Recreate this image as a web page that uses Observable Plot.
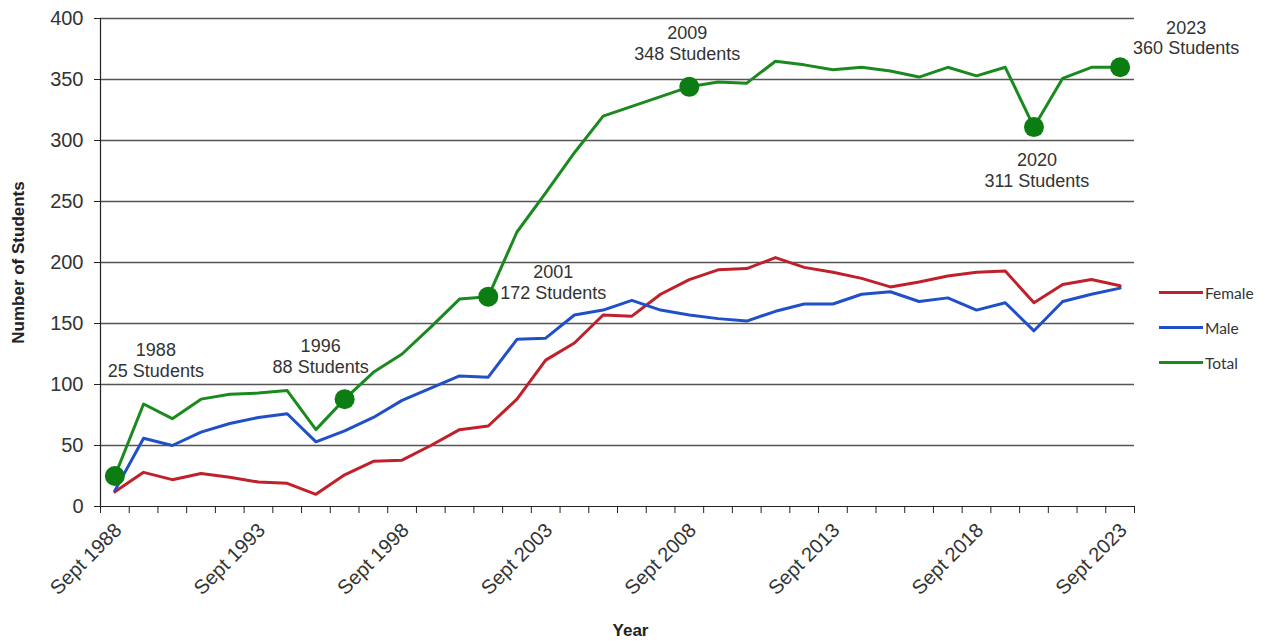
<!DOCTYPE html>
<html>
<head>
<meta charset="utf-8">
<script src="https://cdn.jsdelivr.net/npm/d3@7"></script>
<script src="https://cdn.jsdelivr.net/npm/@observablehq/plot@0.6"></script>
<style>
  html, body { margin: 0; padding: 0; background: #fff; }
  #wrap { position: relative; width: 1269px; height: 642px; font-family: "Liberation Sans", Arial, sans-serif; }
  #legend { position: absolute; left: 1159px; top: 275px; font-family: Lato, "Open Sans", sans-serif; font-size: 15.5px; color: #333; }
  #legend .item { display: flex; align-items: center; height: 35px; }
  #legend .sw { width: 44px; height: 3px; margin-right: 2px; }
</style>
</head>
<body>
<div id="wrap"></div>
<script>
// ---- data ----
const years = d3.range(1988, 2024);
const female = [12,28,22,27,24,20,19,10,26,37,38,50,63,66,88,120,134,157,156,174,186,194,195,204,196,192,187,180,184,189,192,193,167,182,186,181];
const male   = [13,56,50,61,68,73,76,53,62,73,87,97,107,106,137,138,157,161,169,161,157,154,152,160,166,166,174,176,168,171,161,167,144,168,174,179];
const total  = [25,84,72,88,92,93,95,63,88,110,125,147,170,172,225,257,290,320,328,336,344,348,347,365,362,358,360,357,352,360,353,360,311,351,360,360];
const seriesNames = ["Female", "Male", "Total"];
const seriesColors = ["#c0202a", "#2050c8", "#1a8a1e"];
const yTicks = [0,50,100,150,200,250,300,350,400];
const xLabelYears = [1988,1993,1998,2003,2008,2013,2018,2023];
const highlightYears = [1988,1996,2001,2008,2020,2023];
const highlightLabels = ["1988\n25 Students","1996\n88 Students","2001\n172 Students","2009\n348 Students","2020\n311 Students","2023\n360 Students"];
// label offsets (layout only)
const labelOffsets = [[41,-116],[-24,-43],[65,-15],[-2,-44],[3,43],[66,-30]];

// ---- build ----
const rows = [];
years.forEach((yr, i) => {
  rows.push({year: yr, value: female[i], series: "Female"});
  rows.push({year: yr, value: male[i], series: "Male"});
  rows.push({year: yr, value: total[i], series: "Total"});
});
const highlights = highlightYears.map((yr, i) => ({year: yr, value: total[years.indexOf(yr)], label: highlightLabels[i]}));
const boundaries = d3.range(years.length + 1).map(i => years[0] - 0.5 + i);

const annotationMarks = highlights.map((h, i) => Plot.text([h], {
  x: "year", y: "value", text: "label",
  dx: labelOffsets[i][0], dy: labelOffsets[i][1],
  fontSize: 18, lineHeight: 1.15, fill: "#333", textAnchor: "middle"
}));

const chart = Plot.plot({
  width: 1269,
  height: 642,
  marginLeft: 100,
  marginRight: 135,
  marginTop: 18,
  marginBottom: 136,
  style: {fontFamily: "'Liberation Sans', Arial, sans-serif", background: "#fff", color: "#222"},
  x: {type: "linear", domain: [years[0] - 0.5, years[years.length - 1] + 0.5], axis: null},
  y: {domain: [0, 400], axis: null},
  color: {domain: seriesNames, range: seriesColors},
  marks: [
    Plot.ruleY(yTicks.filter(d => d > 0), {stroke: "#555", strokeWidth: 1.5}),
    Plot.axisY({ticks: yTicks, tickSize: 6, tickFormat: () => "", label: null, stroke: "#222"}),
    Plot.text(yTicks, {y: d => d, frameAnchor: "left", text: d => String(d), textAnchor: "end", dx: -17, fontSize: 20, fill: "#333"}),
    Plot.ruleX([boundaries[0]], {stroke: "#222", strokeWidth: 1.2}),
    Plot.ruleY([0], {stroke: "#222", strokeWidth: 1.2}),
    Plot.axisX({ticks: boundaries, tickSize: 7, tickFormat: () => "", label: null, stroke: "#222"}),
    Plot.text(xLabelYears, {
      x: d => d, frameAnchor: "bottom", text: d => "Sept " + d,
      rotate: -45, textAnchor: "end", fontSize: 20, fill: "#333", dx: 8, dy: 25
    }),
    Plot.line(rows, {x: "year", y: "value", z: "series", stroke: "series", strokeWidth: 3, strokeLinejoin: "round"}),
    Plot.dot(highlights, {x: "year", y: "value", r: 10, fill: "#0b7d12", stroke: "none"}),
    ...annotationMarks,
    Plot.text(["Number of Students"], {frameAnchor: "left", rotate: -90, dx: -82, fontSize: 17, fontWeight: "bold", fill: "#222", textAnchor: "middle"}),
    Plot.text(["Year"], {frameAnchor: "bottom", dx: 13, dy: 129, fontSize: 17, fontWeight: "bold", fill: "#222", textAnchor: "middle"})
  ]
});

const wrap = document.getElementById("wrap");
wrap.appendChild(chart);

// legend (HTML, to the right of the plot)
const legend = document.createElement("div");
legend.id = "legend";
seriesNames.forEach((name, i) => {
  const item = document.createElement("div");
  item.className = "item";
  const sw = document.createElement("span");
  sw.className = "sw";
  sw.style.background = seriesColors[i];
  const lab = document.createElement("span");
  lab.textContent = name;
  item.appendChild(sw);
  item.appendChild(lab);
  legend.appendChild(item);
});
wrap.appendChild(legend);
</script>
</body>
</html>
